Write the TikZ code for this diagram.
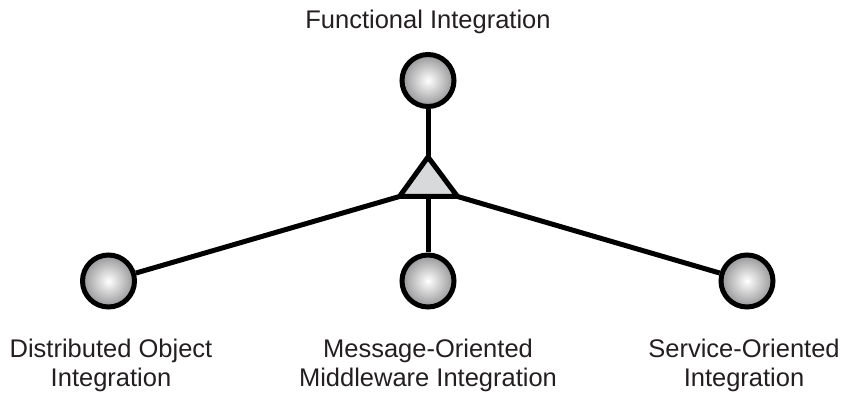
\documentclass[tikz,border=0pt]{standalone}
\usepackage{fontspec}
\setmainfont{Liberation Sans}
\usetikzlibrary{shapes.geometric}
\definecolor{txt}{HTML}{231F20}
\definecolor{ball}{HTML}{959597}
\definecolor{tri}{HTML}{D8D9DA}
\tikzset{
  ball/.style={circle, draw=black, line width=5pt, minimum size=52pt, inner sep=0pt,
    inner color=white, outer color=ball},
  conn/.style={draw=black, line width=5pt},
  lbl/.style={text=txt, font=\fontsize{25.5pt}{29.5pt}\selectfont, align=center, inner sep=0pt}
}
\begin{document}
\begin{tikzpicture}[x=1pt,y=-1pt]
\useasboundingbox (0,0) rectangle (844,395);
\node[ball] (top) at (428,80.5) {};
\node[ball] (left) at (108.5,281) {};
\node[ball] (mid) at (428,281) {};
\node[ball] (right) at (747,281) {};
\coordinate (apex) at (428,157);
\coordinate (bl) at (399.5,196.5);
\coordinate (br) at (457.5,196.5);
\coordinate (bc) at (428,196.5);
\draw[conn] (top) -- (apex);
\draw[conn] (bc) -- (mid);
\draw[conn] (bl) -- (left);
\draw[conn] (br) -- (right);
\filldraw[conn, fill=tri, line join=miter] (apex) -- (br) -- (bl) -- cycle;
\node[lbl, anchor=base] (ftxt) at (428,29) {Functional Integration};
\node[lbl, anchor=base] (ltxt) at (111,387) {Distributed Object\\Integration};
\node[lbl, anchor=base] (mtxt) at (428,387) {Message-Oriented\\Middleware Integration};
\node[lbl, anchor=base] (rtxt) at (744,387) {Service-Oriented\\Integration};
\end{tikzpicture}
\end{document}
